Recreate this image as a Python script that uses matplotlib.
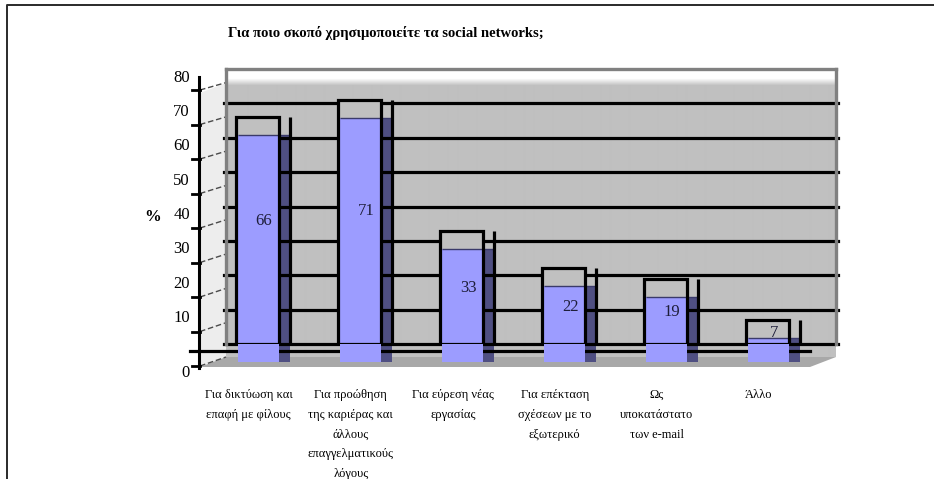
import numpy as np
import matplotlib
matplotlib.use("Agg")
import matplotlib.pyplot as plt
from matplotlib.patches import Polygon
from matplotlib.transforms import ScaledTranslation

# ---- data -------------------------------------------------------------
categories = [
    "Για δικτύωση και\nεπαφή με φίλους",
    "Για προώθηση\nτης καριέρας και\nάλλους\nεπαγγελματικούς\nλόγους",
    "Για εύρεση νέας\nεργασίας",
    "Για επέκταση\nσχέσεων με το\nεξωτερικό",
    "Ως\nυποκατάστατο\nτων e-mail",
    "Άλλο",
]
values = [66, 71, 33, 22, 19, 7]
y_ticks = [0, 10, 20, 30, 40, 50, 60, 70, 80]
title = "Για ποιο σκοπό χρησιμοποιείτε τα social networks;"
y_label = "%"

# ---- figure -----------------------------------------------------------
W, H, DPI = 934, 479, 100
plt.rcParams['font.family'] = ['Liberation Serif', 'DejaVu Serif']
fig = plt.figure(figsize=(W / DPI, H / DPI), dpi=DPI)
fig.patch.set_facecolor('white')


def px_box(x0, y0, x1, y1):
    """pixel box (top-left origin) -> figure fraction rect"""
    return [x0 / W, 1 - y1 / H, (x1 - x0) / W, (y1 - y0) / H]


def shift(dy_px):
    return ScaledTranslation(0, -dy_px / DPI, fig.dpi_scale_trans)


# background layer in pixel units: frame, walls, floor
bg = fig.add_axes([0, 0, 1, 1], zorder=0)
bg.set_xlim(0, W)
bg.set_ylim(H, 0)
bg.axis('off')

bg.plot([7, 7, W], [H, 5, 5], color='#2a2a2a', lw=1.4, solid_capstyle='butt')

# back wall with a soft white fade at its top
wall_top, wall_bot = 69, 357
rows = wall_bot - wall_top
t = np.clip((np.arange(rows) - 9) / 7.0, 0, 1)
grad = np.ones((rows, 1, 3))
grad[:, 0, :] = (1 - t)[:, None] * 1.0 + t[:, None] * (192 / 255)
bg.imshow(grad, extent=(226, 836, wall_bot, wall_top), aspect='auto',
          interpolation='bilinear', zorder=1)

# side wall and floor
bg.add_patch(Polygon([(200, 93), (226, 83), (226, 357), (200, 367)],
                     closed=True, facecolor='#EDEDED', edgecolor='none', zorder=1))
bg.add_patch(Polygon([(226, 357), (836, 357), (810, 367), (200, 367)],
                     closed=True, facecolor='#A8A8A8', edgecolor='none', zorder=1))


def y_front(v):
    return 366 - 3.45 * v


def y_back(v):
    return 357 - 3.43 * v


for v in y_ticks:
    bg.plot([200, 226], [y_front(v), y_back(v)], color='#4a4a4a', lw=1.0,
            ls=(0, (4, 2)), zorder=2)
    bg.plot([192, 200], [y_front(v), y_front(v)], color='black', lw=2.0, zorder=3)

bg.plot([199, 199], [77, 368], color='black', lw=2.2, zorder=3)

# ---- main plotting area -------------------------------------------------
ax = fig.add_axes(px_box(226, 69, 836, 344), zorder=2)
ax.patch.set_visible(False)
x = np.arange(len(values))
ax.set_xlim((226 - 259) / 102, (836 - 259) / 102)
ax.set_ylim(0, 80)
for side in ('top', 'left', 'right'):
    ax.spines[side].set_color('#808080')
    ax.spines[side].set_linewidth(2.4)
ax.spines['bottom'].set_visible(False)
ax.tick_params(axis='y', left=False, labelleft=False)

front = ax.transData + shift(18)

# dark bar sides
sides = ax.bar(x + 0.20, values, width=0.10, align='edge',
               color='#4F4F82', edgecolor='none', zorder=1)
# light bar faces
faces = ax.bar(x - 0.005, values, width=0.40,
               color='#9C9CFF', edgecolor='none', zorder=4)
for r in list(sides) + list(faces):
    r.set_transform(front)
    r.set_clip_on(False)
# thin top rim on each face
ax.hlines(values, x - 0.205, x + 0.30, colors='#3a3a6a', lw=1.0,
          transform=front, zorder=4.5, clip_on=False)

# horizontal grid
for v in y_ticks[:-1]:
    ax.axhline(v, xmin=-0.004, xmax=1.004, color='black', lw=2.3,
               zorder=2, clip_on=False)
ax.axhline(-2.0, xmin=(190 - 226) / 610, xmax=(810 - 226) / 610,
           color='black', lw=2.3, zorder=2, clip_on=False)

# outline boxes
ax.bar(x - 0.225, values, width=0.425, align='edge',
       color='#C0C0C0', edgecolor='none', zorder=3)
ax.bar(x - 0.225, values, width=0.425, align='edge',
       facecolor='none', edgecolor='black', lw=2.3, zorder=5)
ax.vlines(x + 0.30, 0, values, colors='black', lw=2.3, zorder=5)

# value labels
for xi, v in zip(x, values):
    ax.text(xi + 0.05, max(0.62 * v, v / 2 + 5), str(v), transform=front,
            ha='center', va='center', fontsize=12, color='#1e1e3a', zorder=6)

# category labels
ax.set_xticks(x - 0.10)
ax.set_xticklabels(categories, fontsize=9, linespacing=1.86)
ax.tick_params(axis='x', length=0, pad=32.5)

# value axis labels
lab = fig.add_axes(px_box(226, 78, 836, 352), zorder=1)
lab.set_ylim(0, 80)
lab.axis('off')
for v in y_ticks:
    tr = lab.get_yaxis_transform()
    if v == 0:
        tr = tr + shift(21)
    lab.text(-36 / 610, v, str(v), transform=tr, ha='right', va='center',
             fontsize=12, color='black')

bg.text(153, 217, y_label, fontsize=12, fontweight='bold', ha='center',
        va='center', zorder=5)
bg.text(228, 33, title, fontsize=10.5, fontweight='bold', ha='left',
        va='center', zorder=5)

fig.savefig('out.png', dpi=DPI)
